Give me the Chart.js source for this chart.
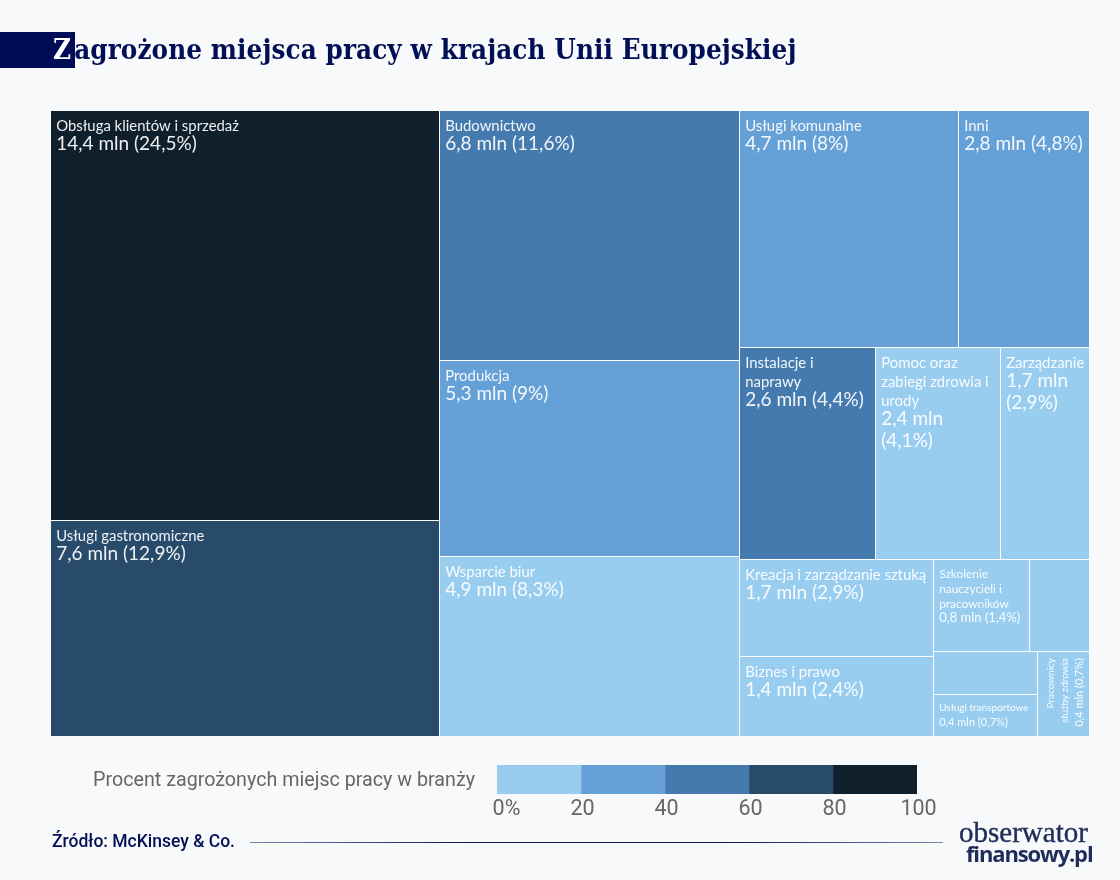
<!DOCTYPE html>
<html lang="pl">
<head>
<meta charset="utf-8">
<title>Zagrożone miejsca pracy w krajach Unii Europejskiej</title>
<script src="https://cdn.jsdelivr.net/npm/chart.js@4/dist/chart.umd.js"></script>
<style>
  html, body { margin: 0; padding: 0; background: #f7f9fb; }
  #page { position: relative; width: 1120px; height: 880px; overflow: hidden; }
  #page > * { position: absolute; white-space: nowrap; }
  #treemap { left: 0; top: 0; }
  #scale { left: 440px; top: 755px; }
  #title-bar { left: 0; top: 32px; width: 75px; height: 36px; background: #000c55; }
  #title { left: 53px; top: 31px; font: bold 27.5px/36px "DejaVu Serif Condensed", "DejaVu Serif", serif; font-kerning: none; letter-spacing: 0.1px; color: #020f55; }
  #title b { color: #fff; margin-right: 3px; }
  #scale-label { right: 645px; top: 767px; font: 19.7px/26px Roboto, sans-serif; color: #666; }
  #source { left: 52px; top: 830px; font: 500 17.5px/22px Roboto, sans-serif; color: #020f55; }
  #rule { left: 250px; top: 842px; width: 693px; height: 1px;
          background: linear-gradient(90deg, #7a84ab, #0b1a66 30%, #0b1a66 70%, #7a84ab); }
  #logo-top { left: 959px; top: 817px; font: 29px/30px "Liberation Serif", serif; -webkit-text-stroke: 0.4px #1f2c5a; color: #1f2c5a; }
  #logo-bottom { left: 966px; top: 839px; font: bold 22px/28px "Open Sans", sans-serif; letter-spacing: -1.15px; color: #1f2c5a; }
</style>
</head>
<body>
<div id="page">
  <canvas id="treemap" width="1120" height="880"></canvas>
  <div id="title-bar"></div>
  <div id="title"><b>Z</b>agrożone miejsca pracy w krajach Unii Europejskiej</div>
  <div id="scale-label">Procent zagrożonych miejsc pracy w branży</div>
  <canvas id="scale" width="560" height="70"></canvas>
  <div id="source">Źródło: McKinsey &amp; Co.</div>
  <div id="rule"></div>
  <div id="logo-top">obserwator</div>
  <div id="logo-bottom">finansowy.pl</div>
</div>
<script>
// Data (two unlabelled cells have no text in the original)
const categories = [
  'Obsługa klientów i sprzedaż', 'Usługi gastronomiczne',
  'Budownictwo', 'Produkcja', 'Wsparcie biur',
  'Usługi komunalne', 'Inni',
  'Instalacje i naprawy', 'Pomoc oraz zabiegi zdrowia i urody', 'Zarządzanie',
  'Kreacja i zarządzanie sztuką', 'Biznes i prawo',
  'Szkolenie nauczycieli i pracowników', '', '', 'Usługi transportowe', 'Pracownicy służby zdrowia'
];
const jobsMln = [14.4, 7.6, 6.8, 5.3, 4.9, 4.7, 2.8, 2.6, 2.4, 1.7, 1.7, 1.4, 0.8, 0.5, 0.4, 0.4, 0.4];
const sharePct = [24.5, 12.9, 11.6, 9, 8.3, 8, 4.8, 4.4, 4.1, 2.9, 2.9, 2.4, 1.4, null, null, 0.7, 0.7];
// index into scaleColors: how much of the sector's work is at risk
const riskBand = [4, 3, 2, 1, 0, 1, 1, 2, 0, 0, 0, 0, 0, 0, 0, 0, 0];
const scaleColors = ['#98cdf0', '#65a1d7', '#457aae', '#284a6b', '#101f2c'];
const scaleTicks = [0, 20, 40, 60, 80, 100];
// Nesting of the cells, indexes into the arrays above. Split direction alternates per level.
const nesting = [
  [0, 1],
  [2, 3, 4],
  [[5, 6], [7, 8, 9], [[10, 11], [[12, 13], [[14, 15], 16]]]]
];

const sumOf = node => Array.isArray(node) ? node.reduce((a, n) => a + sumOf(n), 0) : jobsMln[node];

// Slice the unit square along x / y in proportion to the values
function sliceCells(node, box, alongX, out) {
  if (!Array.isArray(node)) {
    out[node] = box;
    return out;
  }
  const total = sumOf(node);
  let pos = alongX ? box.x0 : box.y0;
  const span = alongX ? box.x1 - box.x0 : box.y1 - box.y0;
  node.forEach(child => {
    const next = pos + span * sumOf(child) / total;
    const part = alongX ? { x0: pos, x1: next, y0: box.y0, y1: box.y1 }
                        : { x0: box.x0, x1: box.x1, y0: pos, y1: next };
    sliceCells(child, part, !alongX, out);
    pos = next;
  });
  return out;
}

// Chart.js has no treemap type, so a small controller puts BarElements on the x/y scales
class TreemapController extends Chart.DatasetController {
  static id = 'treemap';
  static defaults = { dataElementType: 'bar', datasetElementType: false };

  update(mode) {
    const meta = this._cachedMeta;
    this.updateElements(meta.data, 0, meta.data.length, mode);
  }

  updateElements(elements, start, count, mode) {
    const { xScale, yScale } = this._cachedMeta;
    const cells = this.getDataset().data;
    for (let i = start; i < start + count; i++) {
      const cell = cells[i];
      // snapped to whole pixels so the white separators stay crisp
      const left = Math.round(xScale.getPixelForValue(cell.x0));
      const right = Math.round(xScale.getPixelForValue(cell.x1));
      const top = Math.round(yScale.getPixelForValue(cell.y0));
      const bottom = Math.round(yScale.getPixelForValue(cell.y1));
      Object.assign(elements[i], {
        x: (left + right) / 2,
        width: right - left,
        y: top,
        base: bottom,
        height: bottom - top,
        horizontal: false,
        inflateAmount: 0,
        borderSkipped: {},
        enableBorderRadius: false,
        options: this.resolveDataElementOptions(i, mode)
      });
    }
  }
}
Chart.register(TreemapController);

const LABEL_FONT = 'Lato, "Noto Sans", sans-serif';
const fmt = n => String(n).replace('.', ',');

function wrapWords(ctx, text, maxWidth) {
  const lines = [];
  let line = '';
  text.split(' ').forEach(word => {
    const test = line ? line + ' ' + word : word;
    if (line && ctx.measureText(test).width > maxWidth) {
      lines.push(line);
      line = word;
    } else {
      line = test;
    }
  });
  lines.push(line);
  return lines;
}

// Smaller cells get smaller type, very narrow ones get it rotated
function labelMetrics(value) {
  if (value >= 1) return { name: 14.9, val: 19, first: 15.5, nameStep: 19, gap: 17.5, valStep: 22 };
  if (value >= 0.8) return { name: 11.9, val: 13, first: 14, nameStep: 15, gap: 13.5, valStep: 15 };
  return { name: 10, val: 11, first: 13, nameStep: 14, gap: 14, valStep: 14 };
}

const cellLabels = {
  id: 'cellLabels',
  afterDatasetsDraw(chart) {
    const ctx = chart.ctx;
    chart.getDatasetMeta(0).data.forEach((el, i) => {
      if (!categories[i]) return;
      const m = labelMetrics(jobsMln[i]);
      const left = el.x - el.width / 2;
      const top = el.y;
      const rotated = el.base - el.y > el.width * 1.5 && jobsMln[i] < 0.8;
      const room = (rotated ? el.base - el.y : el.width) - 10;
      const valueText = `${fmt(jobsMln[i])} mln (${fmt(sharePct[i])}%)`;

      ctx.save();
      ctx.fillStyle = 'rgba(255,255,255,0.93)';
      ctx.textBaseline = 'middle';
      if (rotated) {
        ctx.translate(left, top);
        ctx.rotate(-Math.PI / 2);
        ctx.textAlign = 'right';
      }
      const draw = (text, offset) => rotated
        ? ctx.fillText(text, -6, offset)
        : ctx.fillText(text, left + 5.2, top + offset);

      ctx.font = `${m.name}px ${LABEL_FONT}`;
      const names = wrapWords(ctx, categories[i], room);
      let pos = m.first;
      names.forEach((t, k) => {
        draw(t, pos);
        if (k < names.length - 1) pos += m.nameStep;
      });
      pos += m.gap;
      ctx.font = `${m.val}px ${LABEL_FONT}`;
      wrapWords(ctx, valueText, room).forEach(t => {
        draw(t, pos);
        pos += m.valStep;
      });
      ctx.restore();
    });
  }
};

const cellBoxes = sliceCells(nesting, { x0: 0, x1: 1, y0: 0, y1: 1 }, true, []);

new Chart(document.getElementById('treemap'), {
  type: 'treemap',
  data: {
    labels: categories,
    datasets: [{
      parsing: false,
      data: cellBoxes,
      backgroundColor: riskBand.map(b => scaleColors[b]),
      borderColor: '#fbfcfe',
      borderWidth: { top: 0, left: 0, right: 1, bottom: 1 }
    }]
  },
  options: {
    responsive: false,
    animation: false,
    events: [],
    layout: { padding: { left: 51, right: 30, top: 111, bottom: 143 } },
    scales: {
      x: { type: 'linear', min: 0, max: 1, display: false },
      y: { type: 'linear', min: 0, max: 1, reverse: true, display: false }
    },
    plugins: { legend: { display: false }, tooltip: { enabled: false } }
  },
  plugins: [cellLabels]
});

// Colour scale below the treemap: one stacked horizontal bar
new Chart(document.getElementById('scale'), {
  type: 'bar',
  data: {
    labels: ['Procent'],
    datasets: scaleColors.map((color, i) => ({
      data: [scaleTicks[i + 1] - scaleTicks[i]],
      backgroundColor: color,
      barPercentage: 1,
      categoryPercentage: 1
    }))
  },
  options: {
    indexAxis: 'y',
    responsive: false,
    animation: false,
    events: [],
    layout: { padding: { left: 57, right: 83, top: 10, bottom: 6 } },
    scales: {
      x: {
        type: 'linear',
        stacked: true,
        min: 0,
        max: 100,
        afterBuildTicks: axis => { axis.ticks = scaleTicks.map(value => ({ value })); },
        afterFit: axis => { axis.height = 25; },
        grid: { display: false, drawTicks: false },
        border: { display: false },
        ticks: {
          color: '#666',
          padding: 3,
          labelOffset: 1.5,
          maxRotation: 0,
          autoSkip: false,
          font: { family: 'Roboto, sans-serif', size: 21.5 },
          callback: v => v === 0 ? '\u00a0\u00a0\u00a00%' : String(v)
        }
      },
      y: { stacked: true, display: false }
    },
    plugins: { legend: { display: false }, tooltip: { enabled: false } }
  }
});
</script>
</body>
</html>
